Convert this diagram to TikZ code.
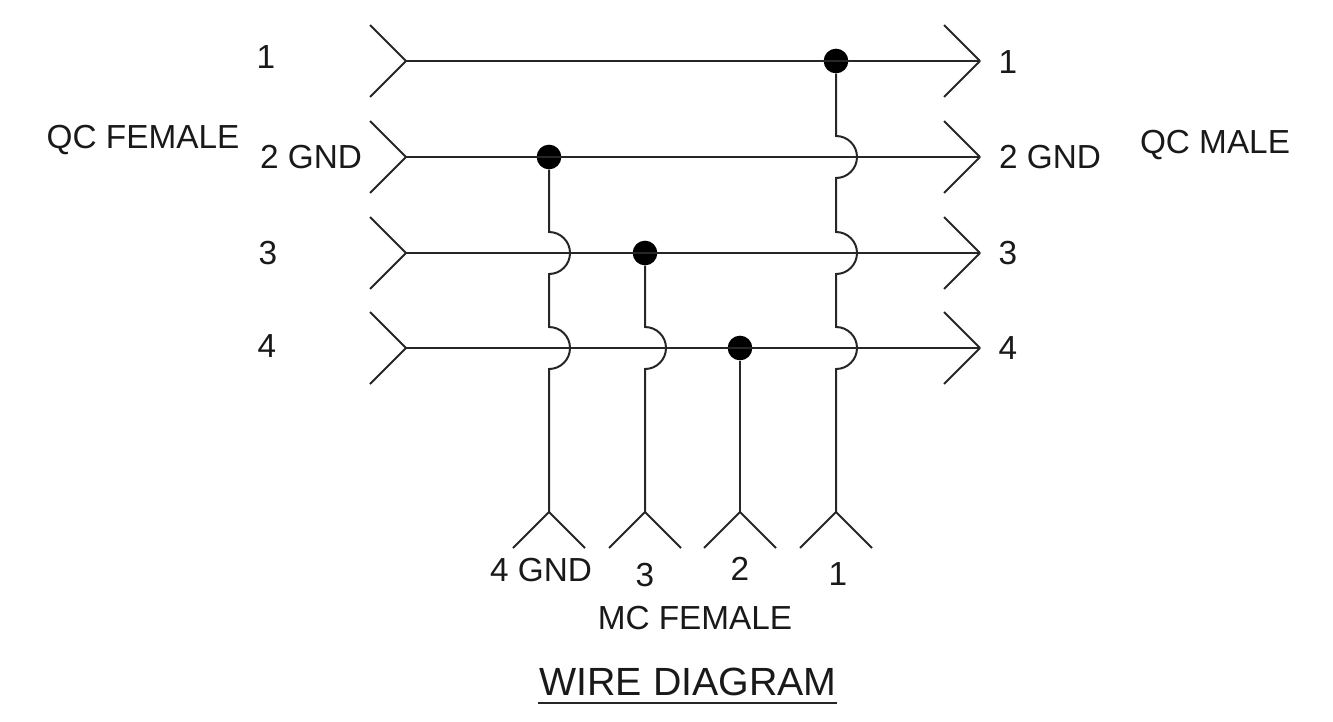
\documentclass[tikz,border=0pt]{standalone}
\usepackage{fontspec}
\setmainfont{Liberation Sans}
\tikzset{
    wire/.style={line width=1.5pt, color=black!85},
    lbl/.style={inner sep=0pt, font=\fontsize{25}{28}\selectfont, color=black!90},
    dot/.style={circle, fill=black, inner sep=0pt, minimum size=18.5pt},
}
\begin{document}
\begin{tikzpicture}[x=0.75pt, y=-0.75pt]
    \useasboundingbox (0,0) rectangle (1333,721);

    % wire ends on the left
    \coordinate (L1) at (406,61);
    \coordinate (L2) at (406,157);
    \coordinate (L3) at (406,253);
    \coordinate (L4) at (406,348);
    % wire ends on the right
    \coordinate (R1) at (980,61);
    \coordinate (R2) at (980,157);
    \coordinate (R3) at (980,253);
    \coordinate (R4) at (980,348);
    % wire ends at the bottom
    \coordinate (B1) at (549,512);
    \coordinate (B2) at (645,512);
    \coordinate (B3) at (740,512);
    \coordinate (B4) at (836,512);

    \node[dot] (D1) at (836,61) {};
    \node[dot] (D2) at (549,157) {};
    \node[dot] (D3) at (645,253) {};
    \node[dot] (D4) at (740,348) {};

    \foreach \i in {1,...,4} {
        \draw[wire] (L\i) -- (R\i);
        \draw[wire] (L\i) -- ++(-36,-36) (L\i) -- ++(-36,36);
        \draw[wire] (R\i) -- ++(-36,-36) (R\i) -- ++(-36,36);
        \draw[wire] (B\i) -- ++(-36,36) (B\i) -- ++(36,36);
    }

    % vertical wires with hops over the horizontal ones
    \draw[wire] (D2) -- (549,232) arc (-90:90:21) -- (549,327) arc (-90:90:21) -- (B1);
    \draw[wire] (D3) -- (645,327) arc (-90:90:21) -- (B2);
    \draw[wire] (D4) -- (B3);
    \draw[wire] (D1) -- (836,136) arc (-90:90:21) -- (836,232) arc (-90:90:21)
        -- (836,327) arc (-90:90:21) -- (B4);

    \node[lbl] (l1) at (266,57) {1};
    \node[lbl] (l2) at (311,157) {2 GND};
    \node[lbl] (l3) at (268,253) {3};
    \node[lbl] (l4) at (267,346) {4};
    \node[lbl] (r1) at (1008,62) {1};
    \node[lbl] (r2) at (1050,157) {2 GND};
    \node[lbl] (r3) at (1008,253) {3};
    \node[lbl] (r4) at (1008,348) {4};
    \node[lbl] (qcf) at (143,140) {QC FEMALE};
    \node[lbl] (qcm) at (1215,145) {QC MALE};
    \node[lbl] (b1) at (541,570) {4 GND};
    \node[lbl] (b2) at (645,575) {3};
    \node[lbl] (b3) at (740,569) {2};
    \node[lbl] (b4) at (838,574) {1};
    \node[lbl] (mcf) at (695,618) {MC FEMALE};
    \node[lbl, font=\fontsize{29.5}{32}\selectfont] (title) at (688,682) {WIRE DIAGRAM};
    \draw[wire] (538,703) -- (837,703);
\end{tikzpicture}
\end{document}
